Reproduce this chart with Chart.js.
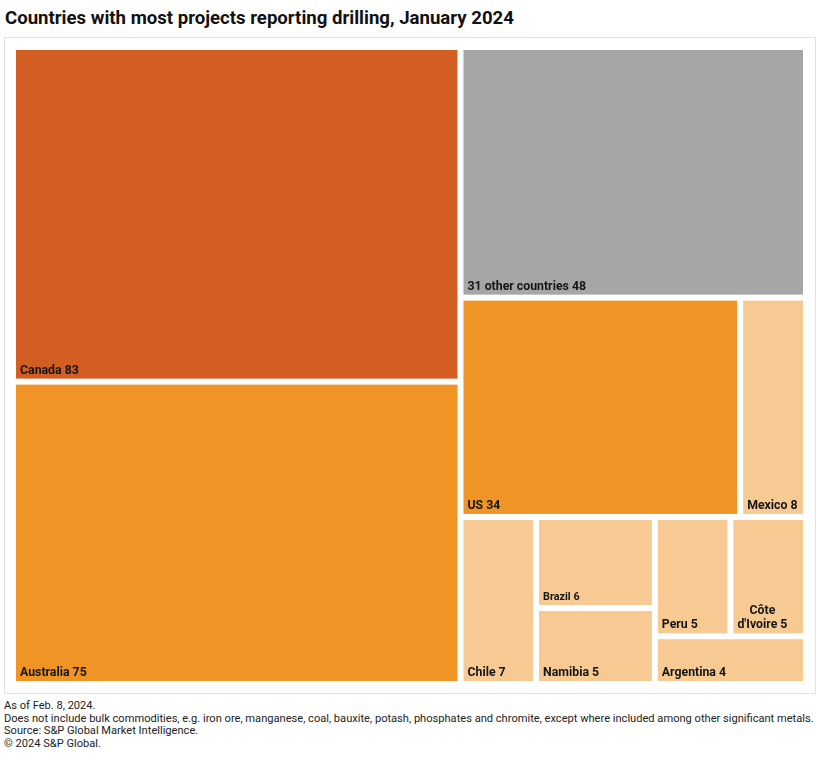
<!DOCTYPE html>
<html>
<head>
<meta charset="utf-8">
<script src="https://cdn.jsdelivr.net/npm/chart.js@4.4.1/dist/chart.umd.min.js"></script>
<style>
  body { margin: 0; width: 821px; height: 764px; background: #fff; font-family: "Roboto", "Liberation Sans", sans-serif; color: #111; position: relative; overflow: hidden; }
  #title { position: absolute; left: 5px; top: 7px; font-size: 18.6px; font-weight: bold; white-space: nowrap; }
  #frame { position: absolute; left: 4px; top: 37px; width: 810px; height: 655px; border: 1px solid #e2e2e2; }
  #wrap { position: absolute; left: 13px; top: 47px; width: 793px; height: 637px; }
  #notes { position: absolute; left: 4px; top: 700px; font-size: 11.1px; line-height: 12.7px; white-space: nowrap; color: #222; }
</style>
</head>
<body>
<div id="title">Countries with most projects reporting drilling, January 2024</div>
<div id="frame"></div>
<div id="wrap"><canvas id="chart" width="793" height="637"></canvas></div>
<div id="notes">
  As of Feb. 8, 2024.<br>
  Does not include bulk commodities, e.g. iron ore, manganese, coal, bauxite, potash, phosphates and chromite, except where included among other significant metals.<br>
  Source: S&amp;P Global Market Intelligence.<br>
  &copy; 2024 S&amp;P Global.
</div>
<script>
// data
const countries = ['Canada', 'Australia', '31 other countries', 'US', 'Mexico', 'Chile', 'Brazil', 'Namibia', 'Peru', "Côte d'Ivoire", 'Argentina'];
const projects = [83, 75, 48, 34, 8, 7, 6, 5, 5, 5, 4];
// how cells are nested (indexes into countries)
const groups = [[0, 1], [2, [[3, 4], [5, [6, 7], [[8, 9], 10]]]]];

// styling per cell
const cellColors = ['#D35E24', '#EF9425', '#A6A6A6', '#EF9425', '#F6CA92', '#F6CA92', '#F6CA92', '#F6CA92', '#F6CA92', '#F6CA92', '#F6CA92'];
const labelSizes = [12.3, 12.3, 12.3, 12.3, 12.3, 12.3, 10.8, 12.3, 12.3, 12.3, 12.3];
const gap = 3;

const groupValue = (node) => Array.isArray(node) ? node.reduce((s, n) => s + groupValue(n), 0) : projects[node];

// slice and dice along the longer side
const layout = (node, x0, y0, x1, y1, pw, ph, out) => {
  if (!Array.isArray(node)) {
    out.push({ i: node, x0, y0, x1, y1 });
    return;
  }
  const total = groupValue(node);
  const wide = (x1 - x0) * pw >= (y1 - y0) * ph;
  let pos = wide ? x0 : y0;
  node.forEach(child => {
    const share = groupValue(child) / total;
    if (wide) {
      const next = pos + (x1 - x0) * share;
      layout(child, pos, y0, next, y1, pw, ph, out);
      pos = next;
    } else {
      const next = pos + (y1 - y0) * share;
      layout(child, x0, pos, x1, next, pw, ph, out);
      pos = next;
    }
  });
};

const treemapCells = {
  id: 'treemapCells',
  afterDatasetsDraw(chart) {
    const { ctx, chartArea } = chart;
    const xs = chart.scales.x, ys = chart.scales.y;
    const cells = [];
    layout(groups, 0, 0, 1, 1, chartArea.width, chartArea.height, cells);

    ctx.save();
    cells.forEach(c => {
      const left = xs.getPixelForValue(c.x0) + gap;
      const right = xs.getPixelForValue(c.x1) - gap;
      const top = ys.getPixelForValue(c.y0) + gap;
      const bottom = ys.getPixelForValue(c.y1) - gap;
      ctx.fillStyle = cellColors[c.i];
      ctx.fillRect(left, top, right - left, bottom - top);

      const label = countries[c.i] + ' ' + projects[c.i];
      ctx.font = 'bold ' + labelSizes[c.i] + 'px Roboto, "Liberation Sans", sans-serif';
      ctx.fillStyle = '#151515';
      ctx.textBaseline = 'alphabetic';
      const maxW = right - left - 8;
      if (ctx.measureText(label).width <= maxW) {
        ctx.textAlign = 'left';
        ctx.fillText(label, left + 4, bottom - 5);
      } else {
        // wrap onto two lines, centred on each other
        const words = label.split(' ');
        const first = words[0];
        const second = words.slice(1).join(' ');
        const w = Math.max(ctx.measureText(first).width, ctx.measureText(second).width);
        const cx = left + 4 + w / 2;
        ctx.textAlign = 'center';
        ctx.fillText(first, cx, bottom - 19);
        ctx.fillText(second, cx, bottom - 5);
      }
    });
    ctx.restore();
  }
};

new Chart(document.getElementById('chart'), {
  type: 'scatter',
  data: { datasets: [{ data: [] }] },
  options: {
    responsive: false,
    animation: false,
    layout: { padding: 0 },
    plugins: { legend: { display: false }, tooltip: { enabled: false } },
    scales: {
      x: { type: 'linear', min: 0, max: 1, display: false },
      y: { type: 'linear', min: 0, max: 1, reverse: true, display: false }
    }
  },
  plugins: [treemapCells]
});
</script>
</body>
</html>
